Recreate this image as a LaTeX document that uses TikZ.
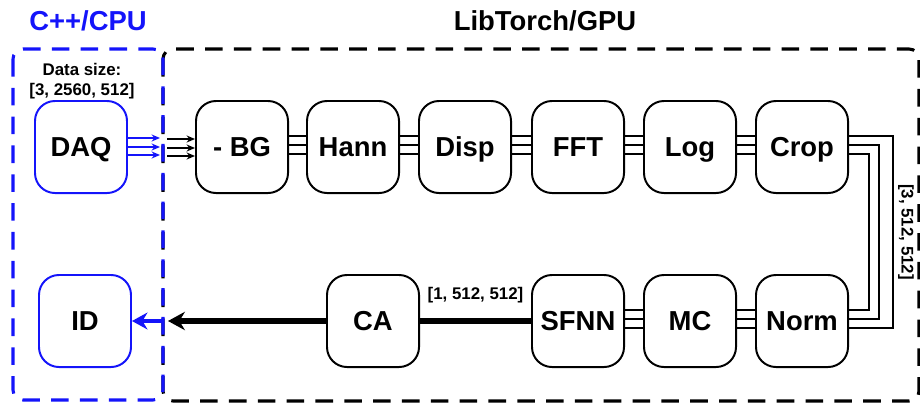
\documentclass[tikz,border=0pt]{standalone}
\usepackage{fontspec}
\setmainfont{Liberation Sans}
\usetikzlibrary{calc,arrows.meta}
\definecolor{cpublue}{HTML}{1414FA}

\begin{document}
\begin{tikzpicture}[x=0.025cm,y=-0.025cm,every node/.style={font=\bfseries},
  blk/.style={rectangle,draw=black,line width=1.4pt,rounded corners=0.5cm,minimum width=2.3cm,minimum height=2.3cm,text height=14pt,text depth=0pt,font=\fontsize{19.5}{22}\selectfont\bfseries},
  bnd/.style={line width=2.2pt,dash pattern=on 12.5pt off 8pt,rounded corners=0.25cm},
  dimlbl/.style={font=\fontsize{12}{14.2}\selectfont\bfseries},
  tri/.style={line width=1.1pt}]
\useasboundingbox (0,0) rectangle (920,402);
\clip (0,0) rectangle (920,402);
% regions
\draw[bnd,black] (163,49) rectangle (919,401);
\draw[bnd,cpublue] (13,49) rectangle (163,400);
\node[text=cpublue,font=\fontsize{19.5}{22}\selectfont\bfseries] (cpu) at (88,21){C++/CPU};
\node[font=\fontsize{19.5}{22}\selectfont\bfseries] (gpu) at (545,21){LibTorch/GPU};
\node[dimlbl,align=center] (size) at (82,81){Data size:\\{[3, 2560, 512]}};
% blocks
\node[blk,draw=cpublue] (daq) at (81,147){DAQ};
\node[blk] (bg) at (242,147){- BG};\node[blk] (hann) at (353,147){Hann};\node[blk] (disp) at (465,147){Disp};
\node[blk] (fft) at (578,147){FFT};\node[blk] (log) at (690,147){Log};\node[blk] (crop) at (802,147){Crop};
\node[blk] (norm) at (802,321){Norm};\node[blk] (mc) at (690,321){MC};\node[blk] (sfnn) at (578,321){SFNN};
\node[blk] (ca) at (373,321){CA};
\node[blk,draw=cpublue] (id) at (85,321){ID};
\coordinate (cpuout) at (160,147);\coordinate (gpuin) at (167,147);
\coordinate (cpuin) at (163,321);\coordinate (gpuout) at (168,321);
% three channels
\foreach \a/\b in {bg/hann,hann/disp,disp/fft,fft/log,log/crop,mc/norm,sfnn/mc}
  \foreach \d in {-11,-2,7}
    \draw[tri] ($(\a.east)+(0,\d)$) -- ($(\b.west)+(0,\d)$);
\foreach \d/\e/\w in {-11/7/44,-2/-2/30,7/-11/20}
  \draw[tri] ($(crop.east)+(0,\d)$) -- ++(\w,0) |- ($(norm.east)+(0,\e)$);
\node[dimlbl,rotate=-90] (chan) at (906,232){[3, 512, 512]};
\foreach \d in {-9,0,8}{
  \draw[cpublue,tri,-{Stealth[length=6pt,width=5pt]}] ($(daq.east)+(0,\d)$) -- ($(cpuout)+(0,\d)$);
  \draw[tri,-{Stealth[length=6pt,width=5pt]}] ($(gpuin)+(0,\d+1)$) -- ($(bg.west)+(0,\d+1)$);}
% output
\draw[line width=4.3pt] (sfnn.west) -- (ca.east) node[midway,above=7pt,dimlbl]{[1, 512, 512]};
\draw[line width=4.3pt,-{Stealth[length=12pt,width=13pt]}] (ca.west) -- (gpuout);
\draw[cpublue,line width=3.5pt,-{Stealth[length=11pt,width=12pt]}] (cpuin) -- (id.east);
\end{tikzpicture}
\end{document}
